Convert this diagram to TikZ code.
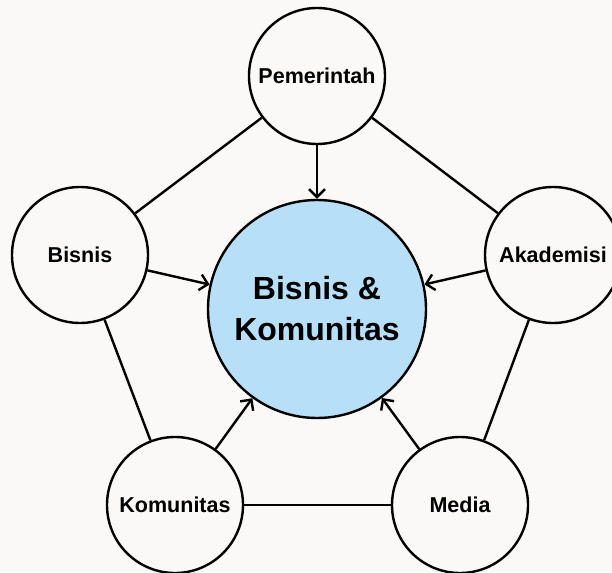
\documentclass[tikz,border=0pt]{standalone}
\usepackage{fontspec}
\setmainfont{Liberation Sans}
\usetikzlibrary{arrows.meta}
\definecolor{paper}{HTML}{FAF9F7}
\definecolor{sky}{HTML}{B7E0F8}
\begin{document}
\begin{tikzpicture}[x=1pt,y=-1pt,line width=2.4pt,
		>={Straight Barb[length=8pt,width=16pt]},
		pihak/.style={circle,draw,minimum size=136pt,inner sep=0,font=\fontsize{21.5}{25}\selectfont\bfseries},
		pusat/.style={circle,draw,fill=sky,minimum size=218pt,inner sep=0,align=center,font=\fontsize{32}{41}\selectfont\bfseries}]
		\fill[paper] (0,0) rectangle (612,572);
		\useasboundingbox (0,0) rectangle (612,572);
		\node[pusat] (C) at (317,309) {Bisnis \&\\Komunitas};
		\node[pihak] (P) at (317,76) {Pemerintah};
		\node[pihak] (B) at (80,255) {Bisnis};
		\node[pihak] (A) at (553,255) {Akademisi};
		\node[pihak] (K) at (175,505) {Komunitas};
		\node[pihak] (M) at (460,505) {Media};
		% sisi segi lima
		\draw (P)--(B);
		\draw (P)--(A);
		\draw (B)--(K);
		\draw (A)--(M);
		\draw (K)--(M);
		% panah ke pusat
		\draw[->] (P)--(C);
		\draw[->] (B)--(C);
		\draw[->] (A)--(C);
		\draw[->] (K)--(C);
		\draw[->] (M)--(C);
	\end{tikzpicture}
\end{document}
